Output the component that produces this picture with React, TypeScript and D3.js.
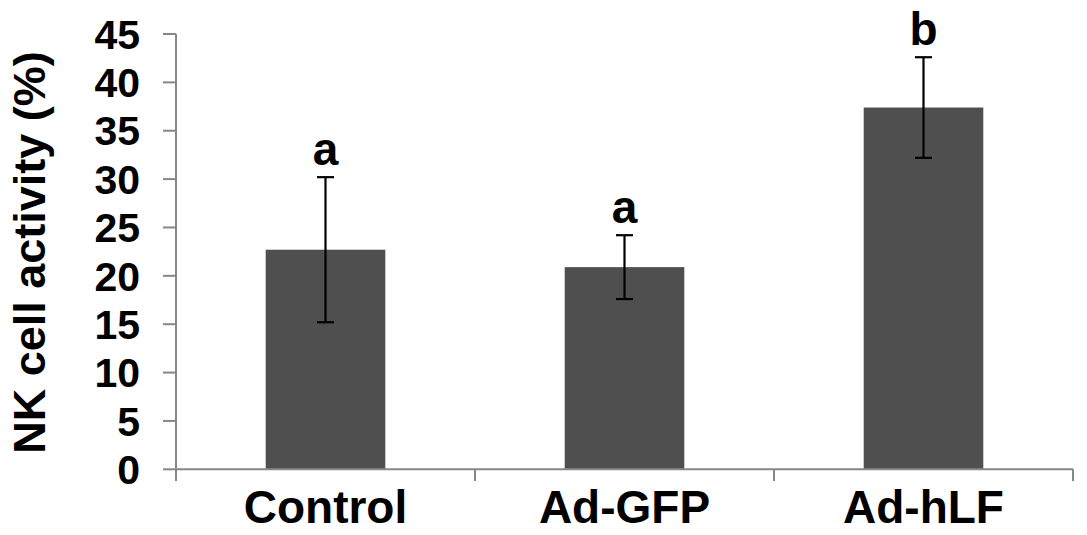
import * as d3 from 'd3';

const categories = ['Control', 'Ad-GFP', 'Ad-hLF'];
const means = [22.7, 20.9, 37.4];
const errors = [7.5, 3.3, 5.2];
const letters = ['a', 'a', 'b'];
const yTicks = [0, 5, 10, 15, 20, 25, 30, 35, 40, 45];

const width = 1087;
const height = 535;
const font = '"Liberation Sans", Arial, sans-serif';
const axisColor = '#878787';

export default function App() {
  const x = d3.scaleBand<string>().domain(categories).range([176, 1073]).padding(0);
  const y = d3.scaleLinear().domain([0, 45]).range([469.3, 34]);
  const bw = x.bandwidth();
  const bounds = [...categories.map(c => x(c) as number), x.range()[1]];

  return (
    <svg
      width={width}
      height={height}
      style={{ position: 'absolute', left: 0, top: 0, background: '#fff' }}
      fontFamily={font}
    >
      {/* bars */}
      {categories.map((c, i) => (
        <rect
          key={c}
          x={(x(c) as number) + bw * 0.3}
          width={bw * 0.4}
          y={y(means[i])}
          height={y(0) - y(means[i])}
          fill="#4f4f4f"
        />
      ))}

      {/* axes */}
      <line x1={176} x2={176} y1={y(45)} y2={481} stroke={axisColor} strokeWidth={2} />
      {yTicks.map(t => (
        <g key={t}>
          <line x1={163} x2={176} y1={y(t)} y2={y(t)} stroke={axisColor} strokeWidth={2} />
          <text
            x={140}
            y={y(t)}
            dy="0.36em"
            textAnchor="end"
            fontSize={41}
            fontWeight="bold"
            fill="#000"
          >
            {t}
          </text>
        </g>
      ))}
      <line x1={176} x2={x.range()[1]} y1={y(0)} y2={y(0)} stroke={axisColor} strokeWidth={2} />
      {bounds.slice(1).map((b, i) => (
        <line key={i} x1={b} x2={b} y1={y(0)} y2={481} stroke={axisColor} strokeWidth={2} />
      ))}

      {/* error bars */}
      {categories.map((c, i) => {
        const cx = (x(c) as number) + bw / 2;
        const top = y(means[i] + errors[i]);
        const bot = y(means[i] - errors[i]);
        return (
          <g key={c} stroke="#000" strokeWidth={2.2}>
            <line x1={cx} x2={cx} y1={top} y2={bot} />
            <line x1={cx - 8.5} x2={cx + 8.5} y1={top} y2={top} />
            <line x1={cx - 8.5} x2={cx + 8.5} y1={bot} y2={bot} />
          </g>
        );
      })}

      {/* significance letters */}
      {categories.map((c, i) => (
        <text
          key={c}
          x={(x(c) as number) + bw / 2}
          y={y(means[i] + errors[i]) - 12}
          textAnchor="middle"
          fontSize={46}
          fontWeight="bold"
          fill="#000"
        >
          {letters[i]}
        </text>
      ))}

      {/* category labels */}
      {categories.map(c => (
        <text
          key={c}
          x={(x(c) as number) + bw / 2}
          y={523}
          textAnchor="middle"
          fontSize={46}
          fontWeight="bold"
          fill="#000"
        >
          {c}
        </text>
      ))}

      {/* y axis title */}
      <text
        transform="translate(45,252.5) rotate(-90)"
        textAnchor="middle"
        fontSize={45}
        fontWeight="bold"
        fill="#000"
      >
        NK cell activity (%)
      </text>
    </svg>
  );
}
